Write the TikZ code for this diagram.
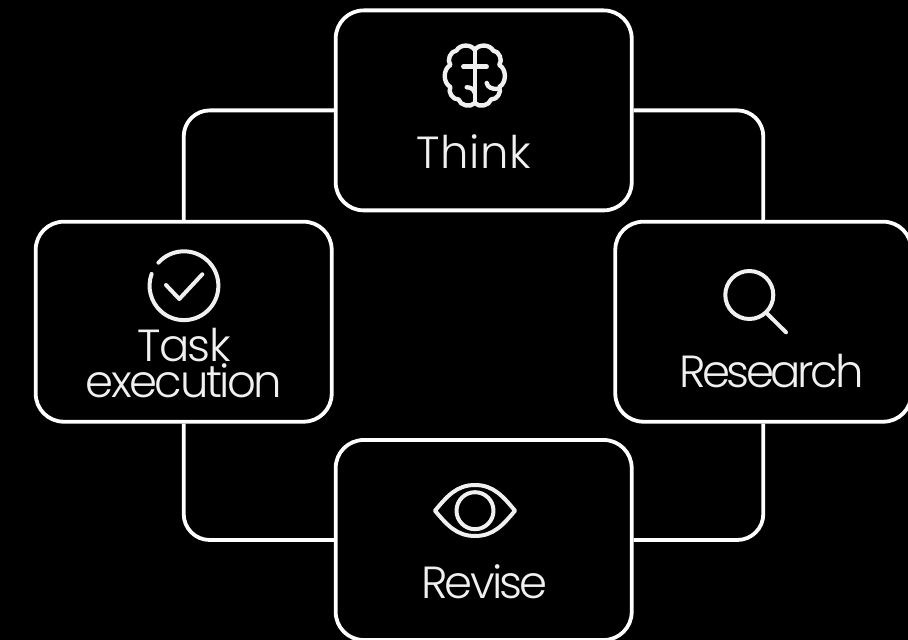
\documentclass[tikz,border=0pt]{standalone}
\usepackage{fontspec}
\setmainfont{Poppins}[UprightFont=* Light,LetterSpace=-3.5]
\newfontfamily\thinkfont{Poppins}[UprightFont=* Light,LetterSpace=1.5]
\newfontfamily\searchfont{Poppins}[UprightFont=* Light,LetterSpace=-7.5]
\newfontfamily\revfont{Poppins}[UprightFont=* Light,LetterSpace=-6]
\newfontfamily\execfont{Poppins}[UprightFont=* Light,LetterSpace=-5.5]
\tikzset{
  bx/.style={draw=white,line width=3.8pt,rounded corners=28pt,fill=black,minimum width=296pt,minimum height=200pt,inner sep=0pt},
  conn/.style={draw=white,line width=3.8pt,rounded corners=26pt},
  icon/.style={draw=white!94!black,line width=4pt,line cap=round,line join=round},
  txt/.style={text=white!94!black,font=\fontsize{45}{36}\selectfont,inner sep=0pt,align=center}
}
\begin{document}
\begin{tikzpicture}[x=1pt,y=1pt]
  \fill[black] (0,0) rectangle (908,640);
  \useasboundingbox (0,0) rectangle (908,640);
  \node[bx] (th) at (483.7,529.6) {};
  \node[bx] (ta) at (183.7,318.3) {};
  \node[bx] (re) at (763.3,318.3) {};
  \node[bx] (rv) at (483.7,100) {};
  \draw[conn] (th.west) -| (ta.north);
  \draw[conn] (th.east) -| (re.north);
  \draw[conn] (rv.west) -| (ta.south);
  \draw[conn] (rv.east) -| (re.south);
  \node[txt,anchor=base] (thl) at (474,471.7) {\thinkfont Think};
  \node[txt] (tal) at (184,277) {Task\\\execfont execution};
  \node[txt,anchor=base] (rel) at (771.3,252.7) {\searchfont Research};
  \node[txt,anchor=base] (rvl) at (484.5,41) {\revfont Revise};
  % brain
  \draw[icon,line width=4.4pt] (474.8,590) to[bend right=60] (456.5,589.5) to[bend right=60] (450.3,575)
    to[bend right=60] (450.3,553) to[bend right=60] (458.5,540.5) to[bend right=60] (474.8,537);
  \draw[icon,line width=4.4pt] (474.8,590) to[bend left=60] (493.1,589.5) to[bend left=60] (499.3,575)
    to[bend left=60] (499.3,553) to[bend left=60] (491.1,540.5) to[bend left=60] (474.8,537);
  \draw[icon,line width=4.4pt] (474.8,590) -- (474.8,537);
  \draw[icon,line width=4.4pt] (463.3,573.3) -- (486.7,573.3);
  \draw[icon,line width=4.4pt] (466.7,552.7) to[out=0,in=100] (474.8,547);
  \draw[icon,line width=4.4pt] (486.7,557) to[out=-80,in=180] (497,551);
  % check
  \draw[icon] (158.4,377.3) arc (138:-200:34.4);
  \draw[icon] (166,355) -- (179.3,341) -- (202.3,365.7);
  % magnifier
  \draw[icon] (749.3,345) circle (24);
  \draw[icon] (766.5,327) -- (786,307.7);
  % eye
  \draw[icon] (435,129.3) to[out=50,in=180] (475,155) to[out=0,in=130] (515,129.3)
    to[out=-130,in=0] (475,104) to[out=180,in=-50] cycle;
  \draw[icon] (475,129.3) circle (18.5);
\end{tikzpicture}
\end{document}
